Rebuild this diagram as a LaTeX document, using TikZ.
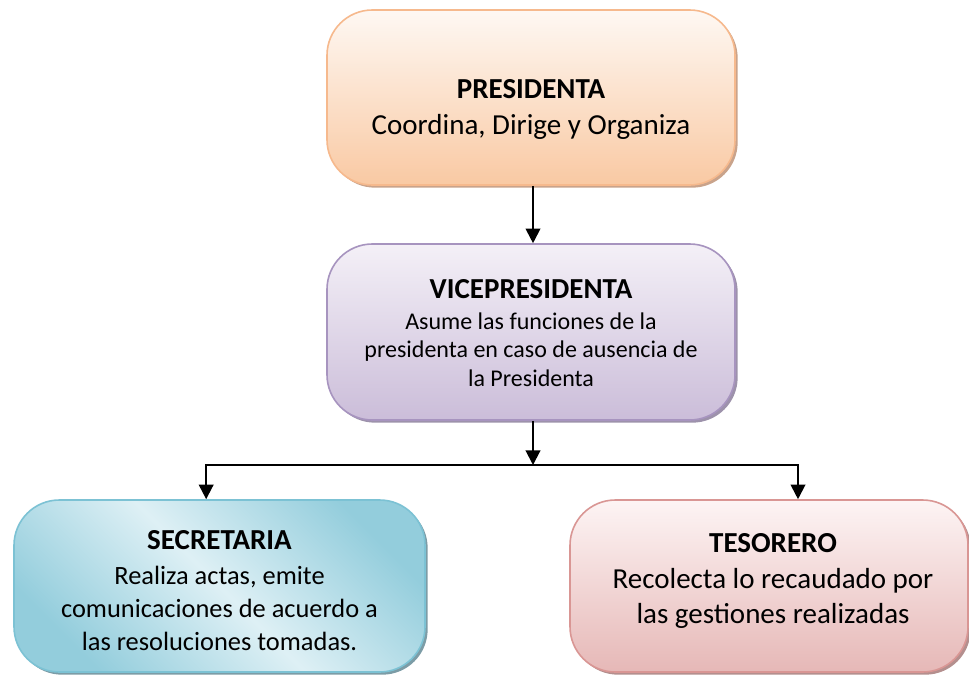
\documentclass[tikz,border=0pt]{standalone}
\usepackage{fontspec}
\setmainfont{Carlito}
\usetikzlibrary{shadows,arrows.meta,calc}
\definecolor{presTop}{HTML}{FEF8F3}
\definecolor{presBot}{HTML}{F9C9A3}
\definecolor{presLine}{HTML}{F6B98D}
\definecolor{presSh}{HTML}{C9A38B}
\definecolor{viceTop}{HTML}{F4F0F7}
\definecolor{viceBot}{HTML}{CBBDD9}
\definecolor{viceLine}{HTML}{A794BF}
\definecolor{viceSh}{HTML}{9D92AB}
\definecolor{secLight}{HTML}{DEF0F5}
\definecolor{secDark}{HTML}{93CDDC}
\definecolor{secLine}{HTML}{7CC2D4}
\definecolor{secSh}{HTML}{7C9CA6}
\definecolor{tesTop}{HTML}{FDF4F4}
\definecolor{tesBot}{HTML}{E6B8B7}
\definecolor{tesLine}{HTML}{D99694}
\definecolor{tesSh}{HTML}{B48F8E}
\begin{document}
\begin{tikzpicture}[x=0.75pt,y=-0.75pt,
  box/.style={rounded corners=34pt, line width=1.2pt, inner sep=0pt},
  txt/.style={align=center, inner sep=0pt, text=black},
  arr/.style={line width=1.5pt, -{Triangle[width=11pt,length=11pt]}},
  ln/.style={line width=1.5pt}]
\useasboundingbox (0,0) rectangle (969,675);

\node[box, draw=presLine, top color=presTop, bottom color=presBot,
  general shadow={fill=presSh, shadow xshift=2pt, shadow yshift=-2pt},
  minimum width=408*0.75pt, minimum height=175*0.75pt] (pres) at (531,97.5) {};
\node[box, draw=viceLine, top color=viceTop, bottom color=viceBot,
  general shadow={fill=viceSh, shadow xshift=2pt, shadow yshift=-2pt},
  minimum width=408*0.75pt, minimum height=176*0.75pt] (vice) at (531,332) {};
\node[box, draw=secLine, top color=secDark, bottom color=secDark, middle color=secLight, shading angle=-45,
  general shadow={fill=secSh, shadow xshift=2pt, shadow yshift=-2pt},
  minimum width=411*0.75pt, minimum height=172*0.75pt] (sec) at (219.5,586) {};
\node[box, draw=tesLine, top color=tesTop, bottom color=tesBot,
  general shadow={fill=tesSh, shadow xshift=2pt, shadow yshift=-2pt},
  minimum width=398*0.75pt, minimum height=172*0.75pt] (tes) at (769,586) {};

\node[txt, font={\fontsize{21.75}{27}\selectfont}] (prest) at (531,109)
  {{\bfseries PRESIDENTA}\\Coordina, Dirige y Organiza};
\node[txt, font={\fontsize{18}{21.4}\selectfont}] (vicet) at (531,333)
  {{\fontsize{21.75}{21.4}\selectfont\bfseries VICEPRESIDENTA}\\[1.85pt]Asume las funciones de la\\presidenta en caso de ausencia de\\la Presidenta};
\node[txt, font={\fontsize{19.8}{24.75}\selectfont}] (sect) at (219.5,591)
  {{\fontsize{21.75}{24.75}\selectfont\bfseries SECRETARIA}\\[1.5pt]Realiza actas, emite\\comunicaciones de acuerdo a\\las resoluciones tomadas.};
\node[txt, font={\fontsize{21.75}{26.5}\selectfont}] (test) at (773,581)
  {{\bfseries TESORERO}\\[0.5pt]Recolecta lo recaudado por\\las gestiones realizadas};

\coordinate (j) at (533,465);
\draw[arr] ([xshift=1.5pt]pres.south) -- ([xshift=1.5pt]vice.north);
\draw[arr] ([xshift=1.5pt]vice.south) -- (j);
\draw[arr] (j) -| ([xshift=-10pt]sec.north);
\draw[arr] (j) -| ([xshift=21.75pt]tes.north);
\end{tikzpicture}
\end{document}
